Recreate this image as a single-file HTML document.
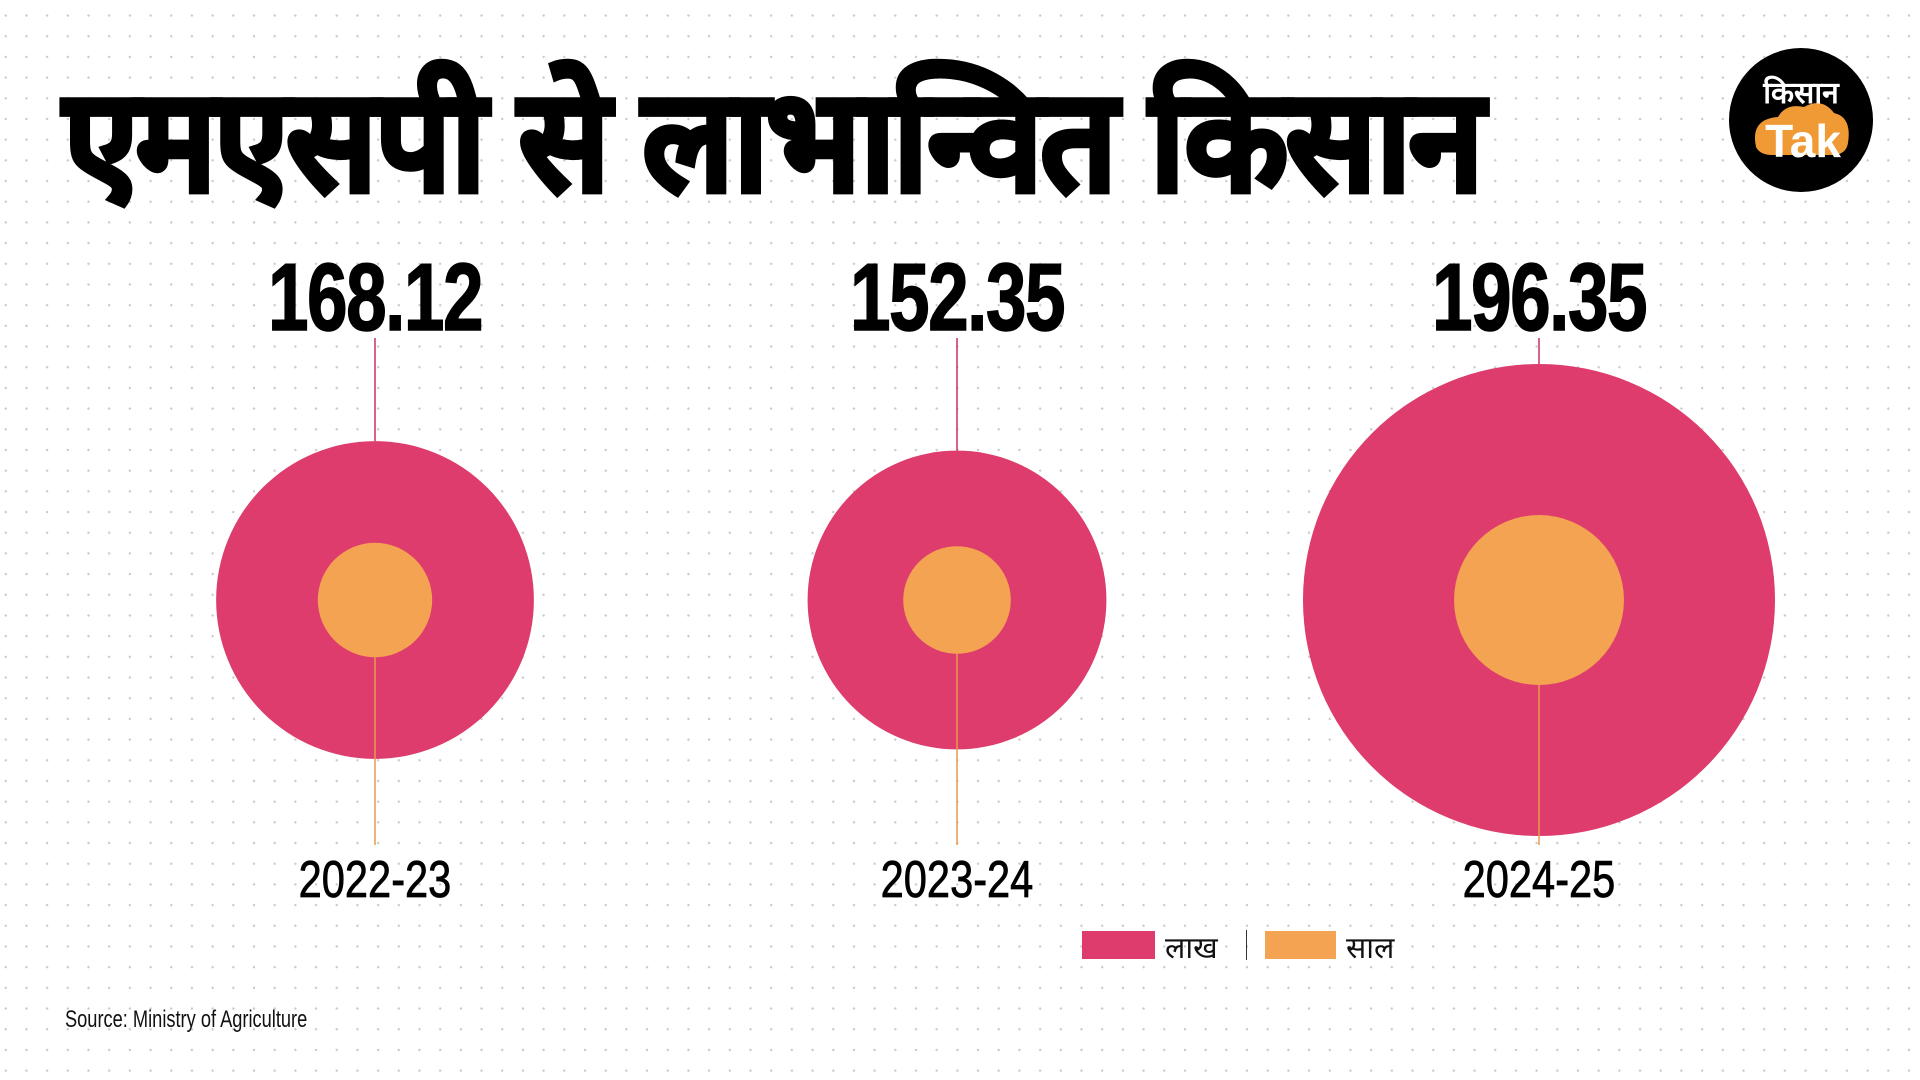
<!DOCTYPE html>
<html><head><meta charset="utf-8">
<style>
html,body{margin:0;padding:0;}
body{width:1920px;height:1080px;position:relative;overflow:hidden;background:#fff;
background-image:radial-gradient(circle,#c9c9c9 1px,transparent 1.4px);background-size:20.7px 20.7px;background-position:-4.6px 5.2px;
font-family:"Liberation Sans",sans-serif;}
.title{position:absolute;left:64px;top:72px;font-size:134px;font-weight:900;color:#000;white-space:nowrap;line-height:1;letter-spacing:-2px;transform:scaleY(1.05);transform-origin:left top;font-family:"Liberation Sans",sans-serif;-webkit-text-stroke:5px #000;}
.src{position:absolute;left:65px;top:1006px;font-size:24px;color:#111;transform:scaleX(0.76);transform-origin:left top;}
</style></head>
<body>
<div class="title">एमएसपी से लाभान्वित किसान</div>
<svg style="position:absolute;left:1728px;top:47px" width="146" height="146" viewBox="0 0 146 146">
 <circle cx="73" cy="73" r="72" fill="#000"/>
 <path d="M28 100 q-6 -28 22 -30 q8 -14 26 -10 q18 -10 30 6 q18 4 14 30 q-2 12 -16 12 h-60 q-12 0 -16 -8z" fill="#f09a35"/>
 <text x="73" y="56" text-anchor="middle" font-size="30" font-weight="bold" fill="#fff" font-family="sans-serif">किसान</text>
 <text x="75" y="110" text-anchor="middle" font-size="46" font-weight="bold" fill="#fff" font-family="Liberation Sans,sans-serif">Tak</text>
</svg>
<svg id="chart" style="position:absolute;left:0;top:0" width="1920" height="1080"></svg>
<div>
 <div style="position:absolute;left:1082px;top:931px;width:73px;height:28px;background:#dd3c6c"></div>
 <div style="position:absolute;left:1165px;top:926px;font-size:30px;color:#111">लाख</div>
 <div style="position:absolute;left:1246px;top:930px;width:1px;height:30px;background:#333"></div>
 <div style="position:absolute;left:1265px;top:931px;width:71px;height:28px;background:#f4a352"></div>
 <div style="position:absolute;left:1346px;top:926px;font-size:30px;color:#111">साल</div>
</div>
<div class="src">Source: Ministry of Agriculture</div>
<script>
const years = ["2022-23","2023-24","2024-25"];
const values = [168.12,152.35,196.35];
const valueLabels = ["168.12","152.35","196.35"];
const NS="http://www.w3.org/2000/svg";
const svg=document.getElementById('chart');
function xPos(i){return 375+i*582;}
function rScale(v){const d=[150,170,196],r=[148,160,235];
 if(v<=d[1])return r[0]+(v-d[0])/(d[1]-d[0])*(r[1]-r[0]);
 return r[1]+(v-d[1])/(d[2]-d[1])*(r[2]-r[1]);}
const cy=600;
function mk(t,a){const e=document.createElementNS(NS,t);for(const k in a)e.setAttribute(k,a[k]);svg.appendChild(e);return e;}
values.forEach((v,i)=>{
 const x=xPos(i),R=rScale(v),ri=R*0.36;
 let e;
 e=mk('line',{x1:x,y1:338,x2:x,y2:cy-R,stroke:'#c8315f','stroke-width':1.5});
 
 
 e=mk('circle',{cx:x,cy:cy,r:R,fill:'#dd3c6c'});
 
 
 e=mk('circle',{cx:x,cy:cy,r:ri,fill:'#f4a352'});
 
 
 e=mk('line',{x1:x,y1:cy+ri,x2:x,y2:845,stroke:'#e89a4e','stroke-width':1.5});
 
 
 e=mk('text',{x:x,y:330,'text-anchor':'middle','font-size':96,'font-weight':'bold',fill:'#000',stroke:'#000','stroke-width':1.5,'font-family':'Liberation Sans,sans-serif',transform:`translate(${x} 0) scale(0.76 1) translate(${-x} 0)`,'letter-spacing':'-2'});
 e.textContent=valueLabels[i];
 
 
 e=mk('text',{x:x,y:897,'text-anchor':'middle','font-size':52,fill:'#000',stroke:'#000','stroke-width':0.8,'font-family':'Liberation Sans,sans-serif',transform:`translate(${x} 0) scale(0.8 1) translate(${-x} 0)`});
 e.textContent=years[i];
 
 
});
</script>
</body></html>
